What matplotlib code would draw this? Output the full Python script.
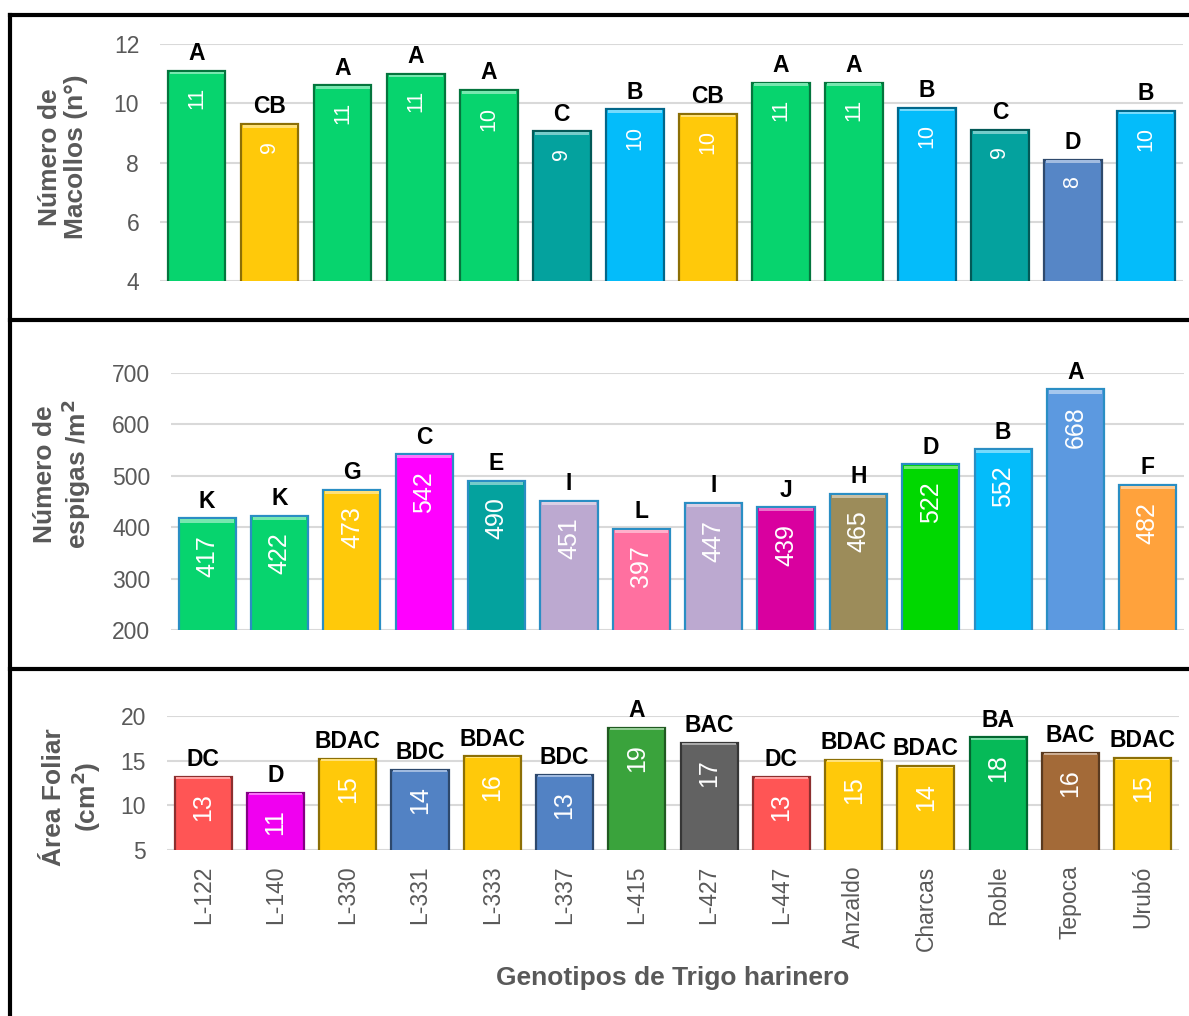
import numpy as np
import matplotlib
matplotlib.use("Agg")
import matplotlib.pyplot as plt
import matplotlib.colors as mcolors
from matplotlib.lines import Line2D

plt.rcParams["font.family"] = ["Liberation Sans", "DejaVu Sans"]

# Data
genotipos = ["L-122", "L-140", "L-330", "L-331", "L-333", "L-337", "L-415",
             "L-427", "L-447", "Anzaldo", "Charcas", "Roble", "Tepoca", "Urubó"]

macollos = [11.1, 9.3, 10.6, 11.0, 10.45, 9.05, 9.8, 9.65, 10.7, 10.7, 9.85, 9.1, 8.1, 9.75]
macollos_letras = ["A", "CB", "A", "A", "A", "C", "B", "CB", "A", "A", "B", "C", "D", "B"]

espigas = [417, 422, 473, 542, 490, 451, 397, 447, 439, 465, 522, 552, 668, 482]
espigas_letras = ["K", "K", "G", "C", "E", "I", "L", "I", "J", "H", "D", "B", "A", "F"]

area_foliar = [13.2, 11.4, 15.2, 14.0, 15.5, 13.4, 18.7, 17.0, 13.2, 15.1, 14.4, 17.6, 15.9, 15.3]
area_letras = ["DC", "D", "BDAC", "BDC", "BDAC", "BDC", "A", "BAC", "DC", "BDAC", "BDAC", "BA", "BAC", "BDAC"]

verde = "#07D46E"
oro = "#FFC90A"
teal = "#04A29E"
celeste = "#04BCFA"
azul = "#5686C6"
colores_macollos = [verde, oro, verde, verde, verde, teal, celeste, oro, verde, verde,
                    celeste, teal, azul, celeste]
colores_espigas = [verde, verde, oro, "#FF00FF", teal, "#BCA9D0", "#FF70A0", "#BCA9D0",
                   "#D9009F", "#9C8C5A", "#00D800", "#04BCFA", "#5C99E0", "#FFA23C"]
colores_area = ["#FF5555", "#F000F0", oro, "#5282C4", oro, "#5282C4", "#3AA33C", "#626262",
                "#FF5555", oro, oro, "#06BA58", "#A36A38", oro]

GRIS = "#595959"


def oscuro(c, f=0.55):
    r, g, b = mcolors.to_rgb(c)
    return (r * f, g * f, b * f)


def claro(c, f=0.45):
    r, g, b = mcolors.to_rgb(c)
    return (r + (1 - r) * f, g + (1 - g) * f, b + (1 - b) * f)


fig = plt.figure(figsize=(11.89, 10.16), dpi=100)

ax1 = fig.add_axes([0.1346, 0.7234, 0.860, 0.2333])
ax2 = fig.add_axes([0.1438, 0.3799, 0.852, 0.2530])
ax3 = fig.add_axes([0.1405, 0.1634, 0.851, 0.1319])

paneles = [
    (ax1, macollos, macollos_letras, colores_macollos, (4, 12), [4, 6, 8, 10, 12], 15.5, None),
    (ax2, espigas, espigas_letras, colores_espigas, (200, 700), [200, 300, 400, 500, 600, 700], 18, "#2A8EC4"),
    (ax3, area_foliar, area_letras, colores_area, (5, 20), [5, 10, 15, 20], 18, None),
]

x = np.arange(len(genotipos))
for ax, vals, letras, cols, ylim, yt, fs_val, borde in paneles:
    edges = [borde if borde else oscuro(c) for c in cols]
    ax.bar(x, vals, width=0.79, color=cols, edgecolor=edges, linewidth=1.6, zorder=3)
    # thin light strip along the top of each bar (bevel look)
    span = ylim[1] - ylim[0]
    ax.bar(x, [span * 0.012] * len(x), bottom=[v - span * 0.016 for v in vals], width=0.74,
           color=[claro(c) for c in cols], linewidth=0, zorder=4)
    ax.set_ylim(*ylim)
    ax.set_xlim(-0.5, len(genotipos) - 0.5)
    ax.set_yticks(yt)
    ax.grid(axis="y", color="#D9D9D9", linewidth=1.5, zorder=0)
    ax.set_axisbelow(True)
    for s in ax.spines.values():
        s.set_visible(False)
    ax.tick_params(axis="y", length=0, pad=15, labelsize=16.5, labelcolor=GRIS)
    ax.tick_params(axis="x", length=0)
    ax.set_xticks(x)
    ax.set_xticklabels([])
    for xi, v, l in zip(x, vals, letras):
        ax.annotate(f"{v:.0f}", (xi, v), xytext=(0, -12), textcoords="offset points",
                    rotation=90, ha="center", va="top", color="white", fontsize=fs_val,
                    zorder=5)
        ax.annotate(l, (xi, v), xytext=(0, 4), textcoords="offset points",
                    ha="center", va="bottom", color="black", fontsize=16.5,
                    fontweight="bold", zorder=5, annotation_clip=False)

ax3.set_xticklabels(genotipos, rotation=90, fontsize=16.5, color=GRIS)
ax3.tick_params(axis="x", pad=11)

fig.text(0.053, 1 - 157 / 1016, "Número de\nMacollos (n°)", rotation=90, ha="center",
         va="center", fontsize=19, fontweight="bold", color=GRIS, linespacing=1.1)
fig.text(0.053, 1 - 474 / 1016, "Número de\nespigas /m$^{\\mathbf{2}}$", rotation=90, ha="center",
         va="center", fontsize=19, fontweight="bold", color=GRIS, linespacing=1.1)
fig.text(0.061, 1 - 797 / 1016, "Área Foliar\n(cm$^{\\mathbf{2}}$)", rotation=90, ha="center",
         va="center", fontsize=19, fontweight="bold", color=GRIS, linespacing=1.1)
fig.text(673 / 1189, 1 - 978 / 1016, "Genotipos de Trigo harinero", ha="center",
         va="center", fontsize=19, fontweight="bold", color=GRIS)

# marco negro alrededor de los paneles
lw = 3
fig.add_artist(Line2D([10 / 1189, 10 / 1189], [0, 1 - 15 / 1016], color="black", lw=lw))
fig.add_artist(Line2D([10 / 1189, 1], [1 - 15 / 1016, 1 - 15 / 1016], color="black", lw=lw))
fig.add_artist(Line2D([10 / 1189, 1], [1 - 320 / 1016, 1 - 320 / 1016], color="black", lw=lw))
fig.add_artist(Line2D([10 / 1189, 1], [1 - 669 / 1016, 1 - 669 / 1016], color="black", lw=lw))

fig.savefig("out.png", dpi=100)
